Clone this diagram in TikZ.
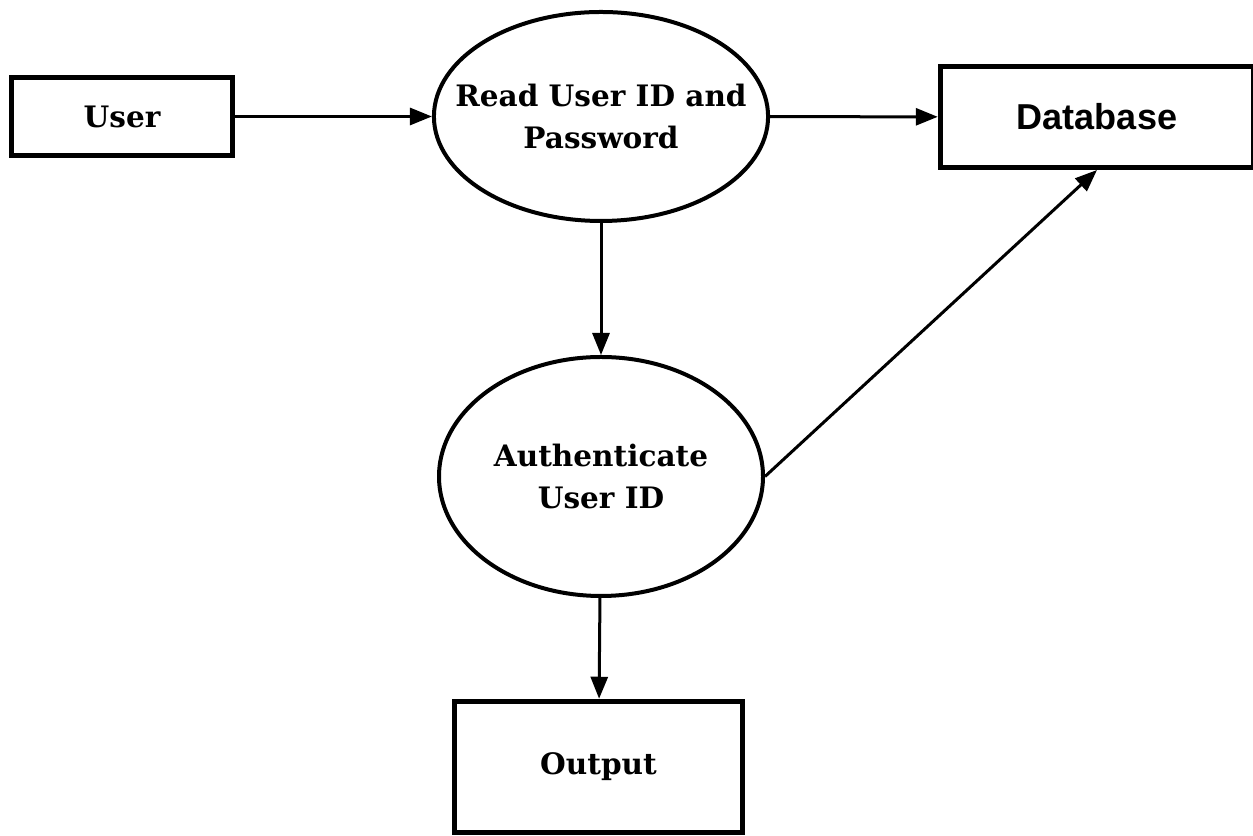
\documentclass[tikz,border=0pt]{standalone}
\usepackage{fontspec}
\setmainfont{DejaVu Serif}
\newfontfamily\dbfont{Liberation Sans}
\usetikzlibrary{positioning}
\usetikzlibrary{shapes.geometric}
\usetikzlibrary{arrows.meta}

\tikzset{
  box/.style={draw, line width=1mm, inner sep=0pt, align=center,
    font=\fontsize{16.8}{23.5}\selectfont\bfseries},
  process/.style={draw, ellipse, line width=0.8mm, inner sep=0pt, align=center,
    font=\fontsize{16.8}{23.5}\selectfont\bfseries},
  flow/.style={-{Triangle[length=4.4mm,width=3.4mm]}, line width=0.6mm}
}

\begin{document}
\begin{tikzpicture}
                \useasboundingbox (0,0) rectangle (25.06,16.72);

                % Nodes
                \node at (2.44,14.39) (user) [box, minimum width=4.42cm, minimum height=1.56cm] {User};
                \node at (12.02,14.39) (read) [process, inner xsep=-0.55cm, minimum width=6.68cm, minimum height=4.18cm] {Read User ID and\\Password};
                \node at (21.94,14.38) (db) [box, minimum width=6.27cm, minimum height=2.02cm,
                  font=\fontsize{20.5}{23}\selectfont\dbfont\bfseries] {Database};
                \node at (12.02,7.19) (auth) [process, minimum width=6.48cm, minimum height=4.78cm] {Authenticate\\User ID};
                \node at (11.97,1.38) (out) [box, minimum width=5.76cm, minimum height=2.63cm] {Output};

                % Arrows
                \draw[flow] (user) -- (read);
                \draw[flow] (read) -- (db);
                \draw[flow] (read) -- (auth);
                \draw[flow] (auth.east) -- (db.south);
                \draw[flow] (auth) -- (out);

\end{tikzpicture}
\end{document}
